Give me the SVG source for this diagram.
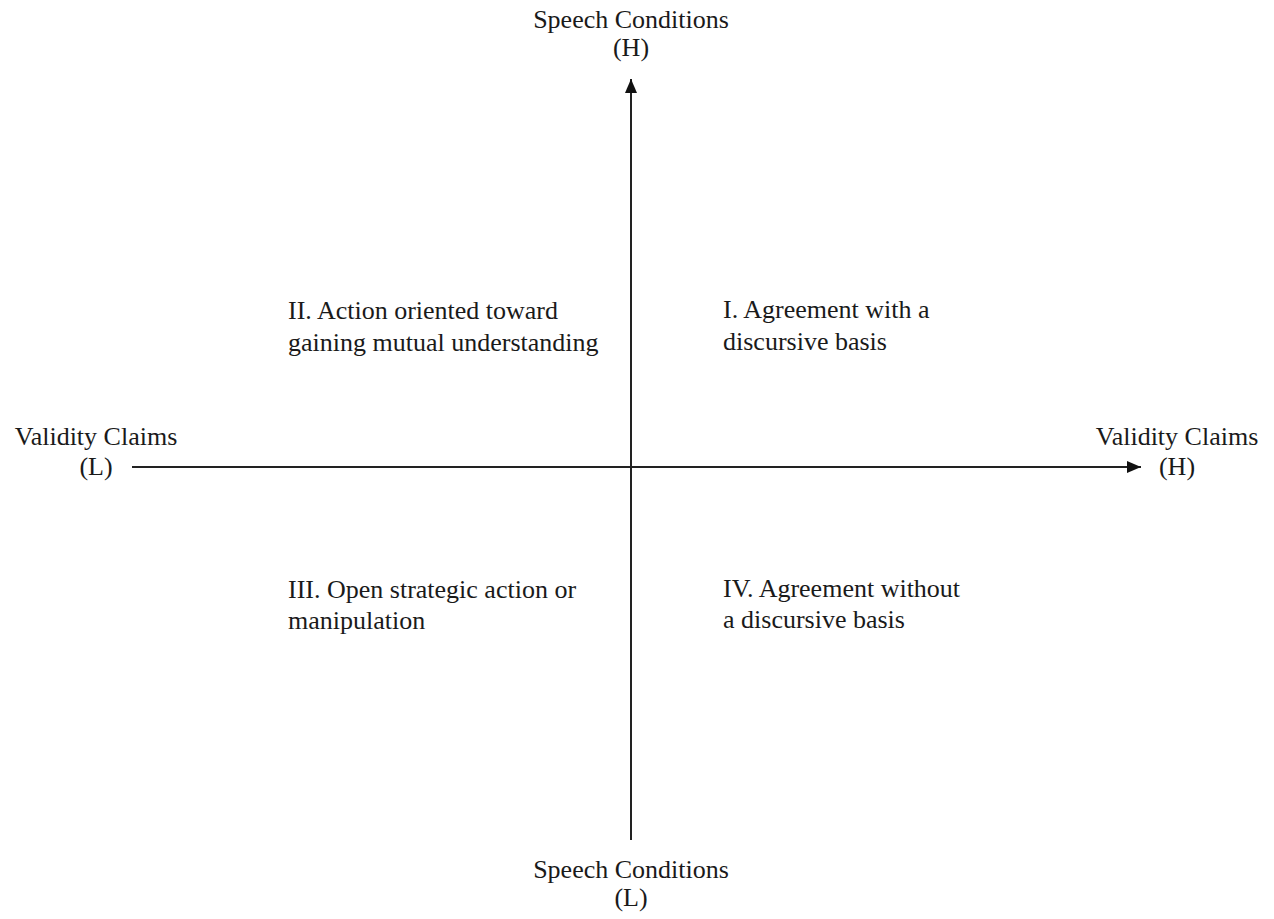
<svg xmlns="http://www.w3.org/2000/svg" width="1274" height="919" viewBox="0 0 1274 919">
<style>
text{font-family:"Liberation Serif","Times New Roman",serif;font-size:26px;fill:#1a1a1a}
.c{text-anchor:middle}
.ax{stroke:#222;stroke-width:2;fill:none}
</style>
<defs>
<marker id="ah" viewBox="0 0 14 12" refX="14" refY="6" markerWidth="14" markerHeight="12" markerUnits="userSpaceOnUse" orient="auto">
<path d="M0,0 L14,6 L0,12 Z" fill="#111"/>
</marker>
</defs>
<rect width="1274" height="919" fill="#fff"/>
<g id="connectors">
<line class="ax" x1="631" y1="840" x2="631" y2="79" marker-end="url(#ah)"/>
<line class="ax" x1="132" y1="467" x2="1141" y2="467" marker-end="url(#ah)"/>
</g>
<g id="label-top"><text class="c" x="631" y="28">Speech Conditions</text><text class="c" x="631" y="56">(H)</text></g>
<g id="label-bottom"><text class="c" x="631" y="878">Speech Conditions</text><text class="c" x="631" y="906">(L)</text></g>
<g id="label-left"><text class="c" x="96" y="445">Validity Claims</text><text class="c" x="96" y="475">(L)</text></g>
<g id="label-right"><text class="c" x="1177" y="445">Validity Claims</text><text class="c" x="1177" y="475">(H)</text></g>
<g id="q2"><text x="288" y="319">II. Action oriented toward</text><text x="288" y="351">gaining mutual understanding</text></g>
<g id="q1"><text x="723" y="318">I. Agreement with a</text><text x="723" y="350">discursive basis</text></g>
<g id="q3"><text x="288" y="598">III. Open strategic action or</text><text x="288" y="629">manipulation</text></g>
<g id="q4"><text x="723" y="597">IV. Agreement without</text><text x="723" y="628">a discursive basis</text></g>
</svg>
